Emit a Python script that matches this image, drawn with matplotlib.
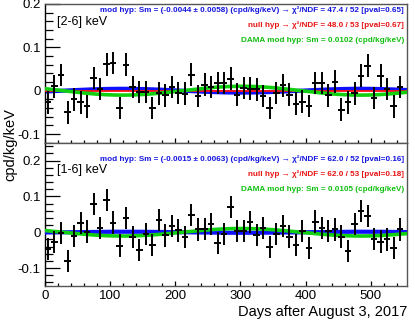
import numpy as np
import matplotlib
matplotlib.use("Agg")
import matplotlib.pyplot as plt
from matplotlib.ticker import MultipleLocator, FuncFormatter

plt.rcParams['font.family'] = ['Liberation Sans', 'DejaVu Sans']
plt.rcParams['axes.unicode_minus'] = False

# ---- data ----
days = [5, 15, 25, 35, 45, 55, 65, 75, 85, 95, 105, 115, 125, 135, 145, 155, 165, 175, 185, 195,
        205, 215, 225, 235, 245, 255, 265, 275, 285, 295, 305, 315, 325, 335, 345, 355, 365, 375,
        385, 395, 405, 415, 425, 435, 445, 455, 465, 475, 485, 495, 505, 515, 525, 535, 545]

rate_2_6 = [-0.027, 0.010, 0.036, -0.050, -0.020, -0.027, -0.036, 0.029, 0.004, 0.061,
            0.064, -0.040, 0.060, 0.008, -0.003, -0.003, -0.040, -0.006, -0.011, 0.008,
            -0.005, -0.007, 0.037, -0.012, 0.014, 0.008, 0.018, 0.018, 0.028, -0.009,
            0.006, 0.005, 0.003, -0.012, -0.040, -0.005, 0.012, -0.009, -0.030, -0.025,
            -0.035, 0.018, 0.018, -0.011, 0.021, -0.044, -0.027, -0.006, 0.035, 0.058,
            -0.017, 0.035, 0.004, -0.036, 0.008]
err_2_6 = [0.026] * 55

rate_1_6 = [-0.047, -0.028, -0.003, -0.081, -0.010, 0.026, 0.002, 0.078, 0.011, 0.091,
            0.027, -0.037, 0.040, -0.014, -0.050, -0.005, -0.036, 0.034, -0.009, 0.018,
            0.005, -0.013, 0.049, 0.008, 0.010, 0.024, -0.029, -0.005, 0.070, 0.004,
            0.004, 0.029, -0.008, 0.011, -0.042, -0.004, 0.017, -0.012, -0.035, 0.004,
            -0.043, 0.030, 0.011, 0.003, 0.008, -0.012, -0.052, 0.023, 0.059, 0.045,
            -0.018, -0.026, -0.020, -0.044, 0.008]
err_1_6 = [0.031] * 55

bin_halfwidth = 5
phase_day = 302      # June 2 expressed in days after Aug 3, 2017
period = 365.25

panels = [
    dict(label="[2-6] keV", rate=rate_2_6, err=err_2_6, sm_fit=-0.0044, sm_dama=0.0102,
         ylim=(-0.12, 0.2),
         txt=["mod hyp: Sm = (-0.0044 \u00b1 0.0058) (cpd/kg/keV) \u2192 \u03c7\u00b2/NDF = 47.4 / 52 [pval=0.65]",
              "null hyp \u2192 \u03c7\u00b2/NDF = 48.0 / 53 [pval=0.67]",
              "DAMA mod hyp: Sm = 0.0102 (cpd/kg/keV)"]),
    dict(label="[1-6] keV", rate=rate_1_6, err=err_1_6, sm_fit=-0.0015, sm_dama=0.0105,
         ylim=(-0.15, 0.25),
         txt=["mod hyp: Sm = (-0.0015 \u00b1 0.0063) (cpd/kg/keV) \u2192 \u03c7\u00b2/NDF = 62.0 / 52 [pval=0.16]",
              "null hyp \u2192 \u03c7\u00b2/NDF = 62.0 / 53 [pval=0.18]",
              "DAMA mod hyp: Sm = 0.0105 (cpd/kg/keV)"]),
]

W, H = 415, 322
fig = plt.figure(figsize=(W / 100, H / 100), dpi=100)

left, right = 44.7 / W, 406.7 / W
tops = [4.0, 142.7]
bots = [142.7, 286.0]

txt_colors = ['#1515e0', '#e81515', '#10c010']
txt_y = [[10.5, 25, 40], [159, 174, 189]]

fmt = FuncFormatter(lambda v, p: ('%g' % round(v, 3)))

tgrid = np.linspace(0, 555, 600)
for i, pnl in enumerate(panels):
    ax = fig.add_axes([left, 1 - bots[i] / H, right - left, (bots[i] - tops[i]) / H])
    ax.set_xlim(0, 555)
    ax.set_ylim(*pnl['ylim'])
    cosv = np.cos(2 * np.pi * (tgrid - phase_day) / period)
    if i == 0:
        ax.plot(tgrid, pnl['sm_fit'] * cosv, color='#1010ff', lw=3.0, zorder=2)
        ax.plot(tgrid, 0 * tgrid, color='#ff1010', lw=1.3, zorder=3)
    else:
        ax.plot(tgrid, 0 * tgrid, color='#ff1010', lw=1.3, zorder=2)
        ax.plot(tgrid, pnl['sm_fit'] * cosv, color='#1010ff', lw=3.0, zorder=3)
    ax.plot(tgrid, pnl['sm_dama'] * cosv, color='#10d010', lw=2.6, zorder=4)
    ax.errorbar(days, pnl['rate'], yerr=pnl['err'], xerr=bin_halfwidth, fmt='none',
                ecolor='black', elinewidth=1.4, capsize=0, zorder=5)

    for s in ax.spines.values():
        s.set_color('#555555')
        s.set_linewidth(1.0)
    ax.spines['left'].set_color('black')

    ax.yaxis.set_major_locator(MultipleLocator(0.1))
    ax.yaxis.set_minor_locator(MultipleLocator(0.02))
    ax.yaxis.set_major_formatter(fmt)
    ax.xaxis.set_major_locator(MultipleLocator(100))
    ax.xaxis.set_minor_locator(MultipleLocator(20))
    ax.tick_params(axis='y', which='major', direction='in', length=10.5, width=0.9, labelsize=9.5, pad=3)
    ax.tick_params(axis='y', which='minor', direction='in', length=5.5, width=0.9)
    ax.tick_params(axis='x', which='major', direction='in', length=3.8, width=0.9, labelsize=9.5, pad=3)
    ax.tick_params(axis='x', which='minor', direction='in', length=2.0, width=0.9)
    if i == 0:
        ax.tick_params(axis='x', labelbottom=False)

    ax.text(57 / W, 1 - (txt_y[i][0] + 11) / H, pnl['label'], transform=fig.transFigure,
            fontsize=9, ha='left', va='center')
    for j in range(3):
        ax.text(404 / W, 1 - txt_y[i][j] / H, pnl['txt'][j], transform=fig.transFigure,
                fontsize=5.9, fontweight='bold', color=txt_colors[j], ha='right', va='center')

fig.text(10 / W, 1 - 145 / H, "cpd/kg/keV", rotation=90, fontsize=10.5, ha='center', va='center')
fig.text(407 / W, 1 - 312 / H, "Days after August 3, 2017", fontsize=10.5, ha='right', va='center')

fig.savefig("out.png", dpi=100)
